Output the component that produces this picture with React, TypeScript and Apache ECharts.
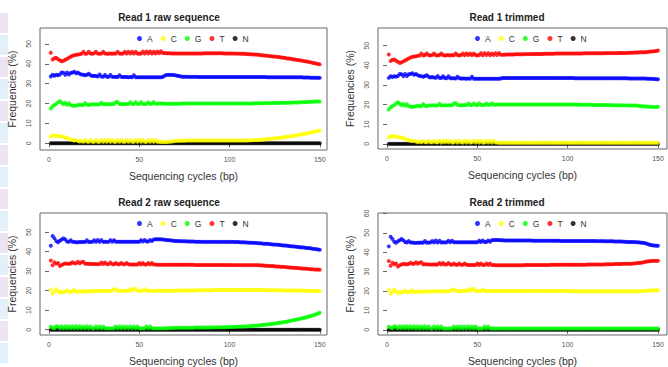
import React, { useEffect, useRef } from "react";
import * as echarts from "echarts";

const BASES = ["A", "C", "G", "T", "N"];
const COLORS = ["#0000ff", "#ffff00", "#00ff00", "#ff0000", "#000000"];
const TITLES = ["Read 1 raw sequence", "Read 1 trimmed", "Read 2 raw sequence", "Read 2 trimmed"];
const X_TICKS = [0, 50, 100, 150];
const Y_TICKS = [0, 10, 20, 30, 40, 50];
const Y_TICKS_60 = [0, 10, 20, 30, 40, 50, 60];
const X_NAME = "Sequencing cycles (bp)";
const Y_NAME = "Frequencies (%)";

// ---------- Read 1 (cycles 1-63 shared, 64-150 per panel) ----------
const R1_A_EARLY = [
  33.6, 34.5, 34.0, 34.5, 34.2, 34.6, 35.6, 35.5, 34.5, 35.6,
  34.6, 35.4, 35.6, 36.0, 35.2, 35.6, 35.0, 34.6, 34.5, 34.2,
  34.5, 35.0, 34.2, 33.8, 34.0, 33.8, 33.6, 34.6, 33.6, 33.5,
  34.4, 33.5, 33.4, 34.4, 33.4, 33.4, 33.4, 33.3, 34.2, 33.4,
  33.3, 33.3, 33.3, 33.2, 33.3, 33.2, 34.2, 33.2, 33.2, 33.2,
  33.2, 33.2, 33.2, 33.2, 33.2, 33.2, 33.2, 33.2, 33.2, 33.2,
  33.2, 33.2, 33.3,
];
const R1RAW_A_LATE = [
  34.0, 34.3, 34.4, 34.4, 34.4, 34.3, 34.2, 34.0, 33.8, 33.6,
  33.5, 33.5, 33.5, 33.4, 33.4, 33.4, 33.4, 33.4, 33.4, 33.3,
  33.3, 33.3, 33.3, 33.3, 33.3, 33.3, 33.3, 33.3, 33.3, 33.3,
  33.3, 33.3, 33.3, 33.3, 33.3, 33.3, 33.3, 33.3, 33.3, 33.3,
  33.3, 33.3, 33.3, 33.3, 33.3, 33.3, 33.3, 33.3, 33.3, 33.3,
  33.3, 33.3, 33.3, 33.3, 33.3, 33.3, 33.3, 33.2, 33.2, 33.2,
  33.2, 33.2, 33.2, 33.2, 33.2, 33.2, 33.2, 33.2, 33.2, 33.2,
  33.2, 33.2, 33.2, 33.2, 33.2, 33.2, 33.2, 33.1, 33.1, 33.1,
  33.1, 33.0, 33.0, 33.0, 33.0, 32.9, 32.9,
];
const R1TRIM_A_LATE = [
  33.5, 33.5, 33.5, 33.5, 33.5, 33.5, 33.5, 33.5, 33.5, 33.5,
  33.5, 33.5, 33.5, 33.5, 33.5, 33.5, 33.5, 33.5, 33.5, 33.5,
  33.5, 33.5, 33.5, 33.5, 33.5, 33.5, 33.5, 33.5, 33.5, 33.5,
  33.5, 33.5, 33.5, 33.5, 33.5, 33.5, 33.5, 33.5, 33.5, 33.5,
  33.4, 33.4, 33.4, 33.4, 33.4, 33.4, 33.4, 33.4, 33.4, 33.4,
  33.4, 33.4, 33.4, 33.4, 33.4, 33.4, 33.4, 33.4, 33.4, 33.4,
  33.4, 33.4, 33.4, 33.4, 33.4, 33.4, 33.4, 33.4, 33.4, 33.4,
  33.3, 33.3, 33.3, 33.3, 33.3, 33.3, 33.3, 33.3, 33.3, 33.3,
  33.2, 33.2, 33.1, 33.1, 33.0, 32.9, 32.9,
];

const R1_T_EARLY = [
  45.5, 42.2, 42.8, 43.0, 42.3, 41.8, 41.2, 41.5, 42.0, 42.5,
  43.0, 43.5, 44.0, 44.3, 44.5, 44.6, 44.8, 45.0, 46.0, 45.0,
  45.2, 46.0, 45.2, 45.0, 45.3, 46.0, 45.1, 45.0, 45.2, 46.0,
  45.2, 45.0, 45.1, 45.2, 45.0, 45.2, 45.1, 46.0, 45.2, 45.0,
  45.2, 46.0, 45.1, 46.0, 45.2, 46.0, 45.1, 46.0, 45.2, 45.0,
  45.2, 46.2, 45.1, 46.2, 45.2, 46.2, 45.1, 46.0, 45.2, 46.2,
  45.3, 46.3, 45.4,
];
const R1RAW_T_LATE = [
  45.4, 45.3, 45.3, 45.3, 45.2, 45.2, 45.2, 45.2, 45.2, 45.2,
  45.2, 45.2, 45.2, 45.2, 45.2, 45.2, 45.2, 45.2, 45.2, 45.2,
  45.2, 45.2, 45.3, 45.3, 45.3, 45.3, 45.3, 45.3, 45.3, 45.3,
  45.3, 45.3, 45.3, 45.2, 45.2, 45.2, 45.2, 45.2, 45.2, 45.1,
  45.1, 45.1, 45.0, 45.0, 45.0, 44.9, 44.9, 44.8, 44.8, 44.7,
  44.7, 44.6, 44.5, 44.4, 44.3, 44.2, 44.1, 44.0, 43.9, 43.8,
  43.7, 43.6, 43.5, 43.4, 43.3, 43.1, 43.0, 42.9, 42.7, 42.6,
  42.5, 42.3, 42.2, 42.0, 41.9, 41.7, 41.6, 41.4, 41.2, 41.1,
  40.9, 40.7, 40.5, 40.3, 40.1, 39.9, 39.7,
];
const R1TRIM_T_LATE = [
  45.4, 45.4, 45.5, 45.5, 45.5, 45.5, 45.5, 45.6, 45.6, 45.6,
  45.6, 45.6, 45.7, 45.7, 45.7, 45.7, 45.7, 45.8, 45.8, 45.8,
  45.8, 45.8, 45.8, 45.9, 45.9, 45.9, 45.9, 45.9, 45.9, 46.0,
  46.0, 46.0, 46.0, 46.0, 46.0, 46.0, 46.0, 46.0, 46.0, 46.0,
  46.0, 46.0, 46.0, 46.0, 46.0, 46.1, 46.1, 46.1, 46.1, 46.1,
  46.1, 46.1, 46.1, 46.1, 46.1, 46.1, 46.1, 46.2, 46.2, 46.2,
  46.2, 46.2, 46.2, 46.2, 46.3, 46.3, 46.3, 46.3, 46.3, 46.3,
  46.4, 46.4, 46.4, 46.5, 46.5, 46.5, 46.6, 46.6, 46.7, 46.7,
  46.8, 46.9, 47.0, 47.1, 47.2, 47.3, 47.5,
];

const R1_G_EARLY = [
  17.5, 18.6, 19.2, 19.8, 20.6, 21.2, 20.4, 19.6, 20.4, 19.4,
  20.2, 19.2, 19.0, 18.8, 19.0, 19.2, 19.4, 19.2, 19.3, 20.3,
  19.4, 19.3, 19.5, 19.6, 19.5, 19.6, 19.5, 19.6, 20.4, 19.6,
  19.6, 19.7, 19.6, 19.6, 19.7, 19.7, 20.6, 20.8, 19.8, 19.7,
  19.7, 19.7, 19.8, 19.7, 20.6, 19.8, 19.8, 20.6, 19.8, 19.8,
  20.7, 19.8, 19.8, 19.8, 20.6, 19.8, 19.9, 20.7, 19.9, 19.9,
  20.0, 20.0, 20.0,
];
const R1RAW_G_LATE = [
  19.9, 19.9, 19.9, 19.9, 19.9, 19.9, 19.9, 19.9, 19.9, 19.9,
  20.0, 20.0, 20.0, 20.0, 20.0, 20.0, 20.0, 20.0, 20.0, 20.0,
  20.0, 20.0, 20.0, 20.0, 20.0, 20.0, 20.0, 20.0, 20.0, 20.0,
  20.0, 20.0, 20.0, 20.0, 20.0, 20.0, 20.0, 20.0, 20.0, 20.0,
  20.0, 20.0, 20.0, 20.0, 20.0, 20.0, 20.0, 20.0, 20.0, 20.0,
  20.1, 20.1, 20.1, 20.1, 20.1, 20.2, 20.2, 20.2, 20.2, 20.2,
  20.3, 20.3, 20.3, 20.3, 20.3, 20.4, 20.4, 20.4, 20.4, 20.4,
  20.5, 20.5, 20.5, 20.5, 20.5, 20.6, 20.6, 20.7, 20.7, 20.8,
  20.8, 20.9, 20.9, 21.0, 21.0, 21.0, 21.0,
];
const R1TRIM_G_LATE = [
  20.0, 20.0, 20.0, 20.0, 20.0, 20.0, 20.0, 20.0, 20.0, 20.0,
  20.0, 20.0, 20.0, 20.0, 20.0, 20.0, 20.0, 20.0, 20.0, 20.0,
  20.0, 20.0, 20.0, 20.0, 20.0, 20.0, 20.0, 20.0, 20.0, 20.0,
  20.0, 20.0, 20.0, 20.0, 20.0, 20.0, 20.0, 20.0, 20.0, 20.0,
  20.0, 20.0, 19.9, 19.9, 19.9, 19.9, 19.9, 19.9, 19.9, 19.9,
  19.8, 19.8, 19.8, 19.8, 19.8, 19.8, 19.8, 19.8, 19.8, 19.8,
  19.7, 19.7, 19.7, 19.7, 19.7, 19.6, 19.6, 19.6, 19.6, 19.6,
  19.5, 19.5, 19.5, 19.5, 19.5, 19.4, 19.3, 19.2, 19.1, 19.0,
  19.0, 18.9, 18.9, 18.8, 18.8, 18.8, 18.9,
];

const R1_C_EARLY = [
  3.4, 3.9, 4.0, 3.6, 3.8, 3.5, 3.4, 3.2, 2.9, 2.6,
  2.2, 1.9, 1.6, 1.4, 1.6, 1.2, 0.9, 1.2, 0.8, 1.6,
  0.9, 0.8, 1.6, 0.8, 0.8, 1.6, 0.8, 0.8, 1.6, 0.7,
  1.6, 0.8, 1.6, 0.8, 1.6, 0.7, 0.8, 1.6, 0.7, 1.6,
  0.8, 0.7, 1.6, 0.7, 1.6, 0.7, 0.8, 1.6, 0.7, 1.6,
  0.7, 1.6, 0.7, 0.7, 1.6, 0.7, 1.6, 0.7, 1.6, 0.7,
  0.7, 0.6, 0.6,
];
const R1RAW_C_LATE = [
  0.6, 0.6, 0.7, 0.8, 0.9, 1.0, 1.1, 1.2, 1.2, 1.3,
  1.3, 1.3, 1.4, 1.4, 1.4, 1.4, 1.4, 1.4, 1.4, 1.4,
  1.4, 1.4, 1.4, 1.4, 1.4, 1.4, 1.4, 1.4, 1.4, 1.4,
  1.4, 1.4, 1.4, 1.4, 1.4, 1.4, 1.4, 1.4, 1.4, 1.4,
  1.4, 1.4, 1.4, 1.4, 1.4, 1.4, 1.4, 1.5, 1.5, 1.5,
  1.6, 1.6, 1.7, 1.7, 1.8, 1.9, 2.0, 2.1, 2.2, 2.3,
  2.4, 2.5, 2.6, 2.7, 2.8, 2.9, 3.0, 3.1, 3.3, 3.4,
  3.5, 3.7, 3.8, 4.0, 4.1, 4.3, 4.5, 4.6, 4.8, 5.0,
  5.2, 5.4, 5.6, 5.8, 6.0, 6.2, 6.4,
];
const R1TRIM_C_LATE = [
  0.6, 0.6, 0.6, 0.6, 0.6, 0.6, 0.6, 0.6, 0.6, 0.6,
  0.6, 0.6, 0.6, 0.6, 0.6, 0.6, 0.6, 0.6, 0.6, 0.6,
  0.6, 0.6, 0.6, 0.6, 0.6, 0.6, 0.6, 0.6, 0.6, 0.6,
  0.6, 0.6, 0.6, 0.6, 0.6, 0.6, 0.6, 0.6, 0.6, 0.6,
  0.6, 0.6, 0.6, 0.6, 0.6, 0.6, 0.6, 0.6, 0.6, 0.6,
  0.6, 0.6, 0.6, 0.6, 0.6, 0.6, 0.6, 0.6, 0.6, 0.6,
  0.6, 0.6, 0.6, 0.6, 0.6, 0.6, 0.6, 0.6, 0.6, 0.6,
  0.6, 0.6, 0.6, 0.6, 0.6, 0.6, 0.6, 0.6, 0.6, 0.6,
  0.6, 0.6, 0.6, 0.6, 0.6, 0.6, 0.6,
];

// ---------- Read 2 (cycles 1-60 shared, 61-150 per panel) ----------
const R2_A_EARLY = [
  43.0, 48.0, 46.8, 45.4, 44.8, 45.6, 46.2, 46.8, 46.2, 45.2,
  45.0, 45.8, 45.0, 45.0, 44.8, 44.8, 44.9, 44.9, 45.0, 44.9,
  45.8, 44.9, 45.0, 45.0, 45.8, 45.0, 46.0, 45.0, 45.9, 45.0,
  45.1, 45.0, 45.1, 45.9, 45.1, 45.9, 45.1, 45.1, 45.1, 45.1,
  45.1, 45.1, 45.1, 45.1, 45.1, 45.1, 45.1, 45.1, 45.1, 45.1,
  45.9, 45.2, 46.0, 45.2, 45.2, 46.0, 45.4, 46.2, 46.3, 46.3,
];
const R2RAW_A_LATE = [
  46.3, 46.3, 46.2, 46.1, 46.0, 45.9, 45.8, 45.7, 45.6, 45.5,
  45.5, 45.4, 45.4, 45.3, 45.3, 45.3, 45.2, 45.2, 45.2, 45.2,
  45.1, 45.1, 45.1, 45.1, 45.0, 45.0, 45.0, 45.0, 45.0, 45.0,
  45.0, 45.0, 45.0, 45.0, 45.0, 45.0, 45.0, 45.0, 45.0, 45.0,
  45.0, 45.0, 44.9, 44.9, 44.9, 44.8, 44.8, 44.8, 44.7, 44.7,
  44.6, 44.6, 44.5, 44.5, 44.4, 44.3, 44.3, 44.2, 44.1, 44.0,
  44.0, 43.9, 43.8, 43.7, 43.6, 43.6, 43.5, 43.4, 43.3, 43.2,
  43.1, 43.0, 42.9, 42.8, 42.7, 42.6, 42.5, 42.4, 42.3, 42.2,
  42.1, 42.0, 41.9, 41.8, 41.7, 41.5, 41.4, 41.3, 41.1, 41.0,
];
const R2TRIM_A_LATE = [
  46.3, 46.3, 46.2, 46.1, 46.0, 46.0, 46.0, 46.0, 46.0, 46.0,
  46.0, 46.0, 46.0, 46.0, 46.0, 46.0, 46.0, 46.0, 46.0, 46.0,
  45.9, 45.9, 45.9, 45.9, 45.9, 45.9, 45.9, 45.9, 45.9, 45.9,
  45.9, 45.9, 45.9, 45.9, 45.9, 45.8, 45.8, 45.8, 45.8, 45.8,
  45.8, 45.8, 45.8, 45.8, 45.8, 45.8, 45.8, 45.8, 45.8, 45.8,
  45.8, 45.8, 45.8, 45.8, 45.8, 45.7, 45.7, 45.7, 45.7, 45.7,
  45.6, 45.6, 45.6, 45.6, 45.6, 45.5, 45.5, 45.5, 45.5, 45.5,
  45.4, 45.4, 45.3, 45.3, 45.3, 45.2, 45.2, 45.1, 45.1, 45.0,
  44.9, 44.8, 44.6, 44.3, 44.0, 43.7, 43.5, 43.4, 43.3, 43.3,
];

const R2_T_EARLY = [
  35.5, 33.0, 34.5, 33.8, 34.2, 32.6, 33.2, 33.6, 34.0, 33.8,
  33.8, 33.9, 34.6, 34.0, 34.0, 34.8, 34.0, 34.6, 34.8, 33.8,
  33.8, 33.8, 33.7, 33.7, 33.7, 33.6, 33.6, 33.6, 34.4, 33.6,
  34.4, 33.6, 33.6, 34.4, 33.6, 33.5, 34.2, 33.5, 33.5, 34.2,
  33.5, 33.5, 34.2, 33.5, 33.4, 33.4, 33.4, 33.4, 33.4, 34.2,
  33.4, 34.2, 33.4, 33.4, 34.2, 33.4, 34.2, 33.4, 33.4, 33.3,
];
const R2RAW_T_LATE = [
  33.3, 33.3, 33.3, 33.3, 33.3, 33.3, 33.3, 33.3, 33.3, 33.3,
  33.3, 33.3, 33.3, 33.3, 33.3, 33.3, 33.3, 33.3, 33.3, 33.3,
  33.2, 33.2, 33.2, 33.2, 33.2, 33.2, 33.2, 33.2, 33.2, 33.2,
  33.2, 33.2, 33.2, 33.2, 33.2, 33.2, 33.2, 33.2, 33.2, 33.2,
  33.1, 33.1, 33.1, 33.1, 33.1, 33.1, 33.1, 33.1, 33.1, 33.1,
  33.1, 33.1, 33.1, 33.1, 33.1, 33.0, 33.0, 32.9, 32.9, 32.8,
  32.8, 32.7, 32.6, 32.6, 32.5, 32.4, 32.4, 32.3, 32.2, 32.2,
  32.1, 32.0, 31.9, 31.9, 31.8, 31.7, 31.6, 31.6, 31.5, 31.4,
  31.3, 31.3, 31.2, 31.1, 31.0, 31.0, 30.9, 30.8, 30.8, 30.7,
];
const R2TRIM_T_LATE = [
  33.3, 33.3, 33.3, 33.3, 33.3, 33.3, 33.3, 33.3, 33.3, 33.3,
  33.3, 33.3, 33.3, 33.3, 33.3, 33.4, 33.4, 33.4, 33.4, 33.4,
  33.4, 33.4, 33.4, 33.4, 33.4, 33.4, 33.4, 33.4, 33.4, 33.4,
  33.5, 33.5, 33.5, 33.5, 33.5, 33.5, 33.5, 33.5, 33.5, 33.5,
  33.5, 33.5, 33.5, 33.5, 33.5, 33.5, 33.5, 33.5, 33.5, 33.5,
  33.6, 33.6, 33.6, 33.6, 33.6, 33.7, 33.7, 33.7, 33.7, 33.7,
  33.8, 33.8, 33.8, 33.8, 33.8, 33.9, 33.9, 33.9, 33.9, 33.9,
  34.0, 34.0, 34.0, 34.0, 34.0, 34.1, 34.2, 34.3, 34.4, 34.5,
  34.6, 34.8, 35.0, 35.2, 35.3, 35.4, 35.5, 35.6, 35.5, 35.6,
];

const R2_C_EARLY = [
  20.5, 18.6, 19.4, 20.8, 19.8, 19.0, 19.4, 19.2, 19.5, 20.2,
  19.5, 19.4, 19.6, 20.4, 19.5, 19.6, 19.6, 19.6, 19.6, 19.7,
  19.7, 19.7, 19.7, 19.8, 19.8, 19.8, 19.8, 19.8, 19.9, 19.8,
  19.8, 19.9, 19.9, 19.9, 20.0, 20.8, 20.8, 20.0, 20.0, 20.0,
  20.0, 20.0, 20.0, 20.0, 20.8, 20.0, 21.0, 21.0, 20.0, 20.0,
  20.0, 20.0, 20.8, 20.0, 20.0, 20.0, 20.0, 20.0, 20.0, 20.0,
];
const R2RAW_C_LATE = [
  20.0, 20.0, 20.0, 20.0, 20.0, 20.0, 20.0, 20.0, 20.0, 20.0,
  20.1, 20.1, 20.1, 20.1, 20.1, 20.1, 20.1, 20.1, 20.1, 20.1,
  20.2, 20.2, 20.2, 20.2, 20.2, 20.2, 20.2, 20.2, 20.2, 20.2,
  20.3, 20.3, 20.3, 20.3, 20.3, 20.3, 20.3, 20.3, 20.3, 20.3,
  20.3, 20.3, 20.3, 20.3, 20.3, 20.3, 20.3, 20.3, 20.3, 20.3,
  20.3, 20.3, 20.3, 20.3, 20.3, 20.3, 20.3, 20.3, 20.3, 20.3,
  20.2, 20.2, 20.2, 20.2, 20.2, 20.2, 20.2, 20.2, 20.2, 20.2,
  20.1, 20.1, 20.1, 20.1, 20.1, 20.1, 20.1, 20.1, 20.1, 20.1,
  20.0, 20.0, 20.0, 19.9, 19.9, 19.9, 19.8, 19.8, 19.8, 19.8,
];
const R2TRIM_C_LATE = [
  20.0, 20.0, 20.0, 20.0, 20.0, 20.0, 20.0, 20.0, 20.0, 20.0,
  20.0, 20.0, 20.0, 20.0, 20.0, 20.0, 20.0, 20.0, 20.0, 20.0,
  20.0, 20.0, 20.0, 20.0, 20.0, 20.0, 20.0, 20.0, 20.0, 20.0,
  20.0, 20.0, 20.0, 20.0, 20.0, 20.0, 20.0, 20.0, 20.0, 20.0,
  19.9, 19.9, 19.9, 19.9, 19.9, 19.9, 19.9, 19.9, 19.9, 19.9,
  19.9, 19.9, 19.9, 19.9, 19.9, 19.9, 19.9, 19.9, 19.9, 19.9,
  19.9, 19.9, 19.9, 19.9, 19.9, 19.9, 19.9, 19.9, 19.9, 19.9,
  19.9, 19.9, 19.9, 19.9, 19.9, 19.9, 19.9, 19.9, 19.9, 19.9,
  20.0, 20.0, 20.1, 20.1, 20.2, 20.2, 20.3, 20.3, 20.4, 20.3,
];

const R2_G_EARLY = [
  1.5, 1.0, 0.8, 1.8, 1.6, 0.8, 1.8, 0.8, 1.8, 0.8,
  1.8, 0.8, 1.8, 0.8, 1.8, 0.7, 1.8, 0.7, 1.7, 0.7,
  1.8, 0.7, 1.7, 0.7, 0.7, 1.7, 0.7, 1.7, 0.7, 1.7,
  0.7, 0.7, 0.7, 0.7, 0.7, 0.7, 1.7, 0.7, 1.7, 0.7,
  1.7, 0.7, 1.7, 0.7, 1.7, 0.7, 1.7, 0.7, 1.7, 0.7,
  0.7, 0.7, 0.7, 1.7, 0.7, 1.7, 0.7, 0.7, 0.7, 0.7,
];
const R2RAW_G_LATE = [
  0.7, 0.7, 0.7, 0.8, 0.8, 0.8, 0.9, 0.9, 0.9, 1.0,
  1.0, 1.0, 1.0, 1.0, 1.0, 1.0, 1.0, 1.0, 1.0, 1.0,
  1.1, 1.1, 1.1, 1.1, 1.1, 1.1, 1.1, 1.1, 1.1, 1.1,
  1.2, 1.2, 1.2, 1.2, 1.3, 1.3, 1.3, 1.3, 1.4, 1.4,
  1.4, 1.4, 1.5, 1.5, 1.5, 1.6, 1.6, 1.7, 1.7, 1.8,
  1.8, 1.9, 2.0, 2.0, 2.1, 2.2, 2.3, 2.4, 2.5, 2.6,
  2.7, 2.8, 2.9, 3.0, 3.2, 3.3, 3.4, 3.6, 3.7, 3.9,
  4.0, 4.2, 4.4, 4.6, 4.8, 5.0, 5.2, 5.4, 5.6, 5.8,
  6.0, 6.3, 6.5, 6.8, 7.0, 7.3, 7.6, 7.9, 8.3, 8.7,
];
const R2TRIM_G_LATE = [
  0.7, 0.7, 0.7, 0.7, 0.7, 0.7, 0.7, 0.7, 0.7, 0.7,
  0.7, 0.7, 0.7, 0.7, 0.7, 0.7, 0.7, 0.7, 0.7, 0.7,
  0.7, 0.7, 0.7, 0.7, 0.7, 0.7, 0.7, 0.7, 0.7, 0.7,
  0.7, 0.7, 0.7, 0.7, 0.7, 0.7, 0.7, 0.7, 0.7, 0.7,
  0.7, 0.7, 0.7, 0.7, 0.7, 0.7, 0.7, 0.7, 0.7, 0.7,
  0.7, 0.7, 0.7, 0.7, 0.7, 0.7, 0.7, 0.7, 0.7, 0.7,
  0.7, 0.7, 0.7, 0.7, 0.7, 0.7, 0.7, 0.7, 0.7, 0.7,
  0.7, 0.7, 0.7, 0.7, 0.7, 0.7, 0.7, 0.7, 0.7, 0.7,
  0.7, 0.7, 0.7, 0.7, 0.7, 0.7, 0.7, 0.7, 0.7, 0.7,
];

// N is at 0 % on every cycle in all four panels
const N_ALL = [
  0, 0, 0, 0, 0, 0, 0, 0, 0, 0, 0, 0, 0, 0, 0, 0, 0, 0, 0, 0, 0, 0, 0, 0, 0, 0, 0, 0, 0, 0,
  0, 0, 0, 0, 0, 0, 0, 0, 0, 0, 0, 0, 0, 0, 0, 0, 0, 0, 0, 0, 0, 0, 0, 0, 0, 0, 0, 0, 0, 0,
  0, 0, 0, 0, 0, 0, 0, 0, 0, 0, 0, 0, 0, 0, 0, 0, 0, 0, 0, 0, 0, 0, 0, 0, 0, 0, 0, 0, 0, 0,
  0, 0, 0, 0, 0, 0, 0, 0, 0, 0, 0, 0, 0, 0, 0, 0, 0, 0, 0, 0, 0, 0, 0, 0, 0, 0, 0, 0, 0, 0,
  0, 0, 0, 0, 0, 0, 0, 0, 0, 0, 0, 0, 0, 0, 0, 0, 0, 0, 0, 0, 0, 0, 0, 0, 0, 0, 0, 0, 0, 0,
];

// order: A, C, G, T, N
const PANEL_DATA = [
  [R1_A_EARLY.concat(R1RAW_A_LATE), R1_C_EARLY.concat(R1RAW_C_LATE), R1_G_EARLY.concat(R1RAW_G_LATE), R1_T_EARLY.concat(R1RAW_T_LATE), N_ALL],
  [R1_A_EARLY.concat(R1TRIM_A_LATE), R1_C_EARLY.concat(R1TRIM_C_LATE), R1_G_EARLY.concat(R1TRIM_G_LATE), R1_T_EARLY.concat(R1TRIM_T_LATE), N_ALL],
  [R2_A_EARLY.concat(R2RAW_A_LATE), R2_C_EARLY.concat(R2RAW_C_LATE), R2_G_EARLY.concat(R2RAW_G_LATE), R2_T_EARLY.concat(R2RAW_T_LATE), N_ALL],
  [R2_A_EARLY.concat(R2TRIM_A_LATE), R2_C_EARLY.concat(R2TRIM_C_LATE), R2_G_EARLY.concat(R2TRIM_G_LATE), R2_T_EARLY.concat(R2TRIM_T_LATE), N_ALL],
];

// ---------- layout (positions / styles) ----------
const FONT = "Liberation Sans, Arial, sans-serif";
const LAYOUT = [
  { left: 40, top: 28, width: 287, height: 122, xMin: -5, xMax: 154, yMin: -3.4, yMax: 58, yTicks: Y_TICKS, titleX: 169, titleY: 17, legX: 137, legY: 34 },
  { left: 378, top: 28, width: 289, height: 121, xMin: -5, xMax: 155, yMin: -2.6, yMax: 59, yTicks: Y_TICKS, titleX: 507, titleY: 17, legX: 475, legY: 34 },
  { left: 40, top: 213, width: 287, height: 122, xMin: -5, xMax: 154, yMin: -2.7, yMax: 59.8, yTicks: Y_TICKS, titleX: 169, titleY: 202, legX: 137, legY: 219 },
  { left: 378, top: 213, width: 289, height: 122, xMin: -5, xMax: 155, yMin: -2.7, yMax: 60.2, yTicks: Y_TICKS_60, titleX: 507, titleY: 202, legX: 475, legY: 219 },
];
// draw order: N first so the low C / G points stay visible above it
const DRAW_ORDER = [4, 0, 1, 2, 3];
const SIDEBAR_COLORS = ["#ece4f5", "#e1f0fa"];

export default function App() {
  const ref = useRef<HTMLDivElement>(null);
  useEffect(() => {
    if (!ref.current) return;
    const chart = echarts.init(ref.current, undefined, { renderer: "svg" });

    const grid = LAYOUT.map((l) => ({
      left: l.left, top: l.top, width: l.width, height: l.height,
      show: true, borderColor: "#666", borderWidth: 1, backgroundColor: "transparent",
    }));
    const xAxis = LAYOUT.map((l, i) => ({
      type: "value", gridIndex: i, min: l.xMin, max: l.xMax,
      axisLine: { show: false }, splitLine: { show: false },
      axisTick: { show: true, length: 4, customValues: X_TICKS, lineStyle: { color: "#666" } },
      axisLabel: { customValues: X_TICKS, fontSize: 7, color: "#555", margin: 6, fontFamily: FONT },
      name: X_NAME, nameLocation: "middle", nameGap: 20,
      nameTextStyle: { fontSize: 10.5, color: "#333", fontFamily: FONT },
    }));
    const yAxis = LAYOUT.map((l, i) => ({
      type: "value", gridIndex: i, min: l.yMin, max: l.yMax,
      axisLine: { show: false }, splitLine: { show: false },
      axisTick: { show: true, length: 4, customValues: l.yTicks, lineStyle: { color: "#666" } },
      axisLabel: { customValues: l.yTicks, rotate: 90, fontSize: 7, color: "#555", margin: 8, fontFamily: FONT },
      name: Y_NAME, nameLocation: "middle", nameGap: 23,
      nameTextStyle: { fontSize: 10.5, color: "#333", fontFamily: FONT },
    }));
    const legend = LAYOUT.map((l) => ({
      left: l.legX, top: l.legY, orient: "horizontal", padding: 0,
      itemWidth: 5, itemHeight: 5, itemGap: 8, icon: "circle",
      data: BASES, selectedMode: false,
      textStyle: { fontSize: 8.5, color: "#333", fontFamily: FONT },
    }));
    const series: any[] = [];
    PANEL_DATA.forEach((panel, i) => {
      DRAW_ORDER.forEach((b) => {
        series.push({
          type: "scatter", name: BASES[b], xAxisIndex: i, yAxisIndex: i,
          symbol: "circle", symbolSize: 4, silent: true,
          itemStyle: { color: COLORS[b] },
          data: panel[b].map((v, k) => [k + 1, v]),
        });
      });
    });
    const graphic: any[] = [];
    for (let k = 0; k < 16; k++) {
      graphic.push({ type: "rect", shape: { x: 0, y: 13 + k * 22, width: 8, height: 20 }, style: { fill: SIDEBAR_COLORS[k % 2] }, silent: true });
    }
    LAYOUT.forEach((l, i) => {
      graphic.push({
        type: "text", x: l.titleX, y: l.titleY,
        style: { text: TITLES[i], fontSize: 10, fontWeight: "bold", fill: "#222", fontFamily: FONT, textAlign: "center", textVerticalAlign: "middle" },
        silent: true,
      });
    });

    chart.setOption({
      animation: false,
      backgroundColor: "#ffffff",
      grid, xAxis, yAxis, legend, series, graphic,
    });
    return () => chart.dispose();
  }, []);
  return <div ref={ref} style={{ position: "fixed", left: 0, top: 0, width: 668, height: 367 }} />;
}
